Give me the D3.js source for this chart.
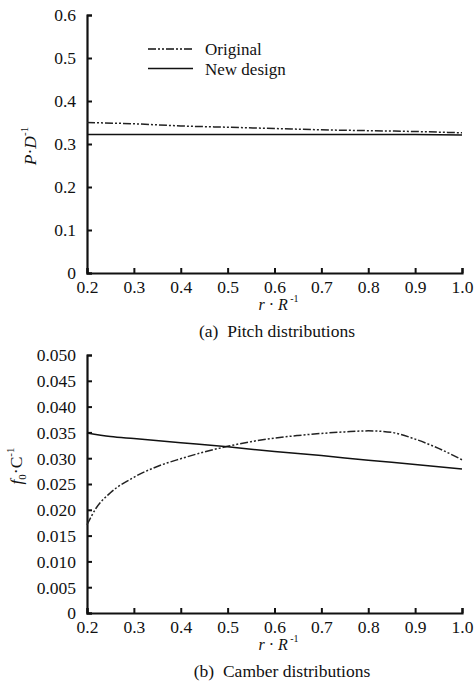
<!DOCTYPE html>
<html>
<head>
<meta charset="utf-8">
<title>Pitch and camber distributions</title>
<style>
  body { margin: 0; background: #fff; }
  svg text { font-family: "Liberation Serif", "Times New Roman", "DejaVu Serif", serif !important; fill: #111; }
</style>
</head>
<body>
<svg width="476" height="686"></svg>
<script src="https://cdn.jsdelivr.net/npm/d3@7"></script>
<script>
// pitch data
const rPitch = [0.2, 0.3, 0.4, 0.5, 0.6, 0.7, 0.8, 0.9, 1.0]
const pitchOriginal = [0.350, 0.347, 0.342, 0.339, 0.336, 0.333, 0.331, 0.329, 0.326]
const pitchNew = [0.322, 0.322, 0.322, 0.322, 0.322, 0.322, 0.322, 0.322, 0.321]
const pitchTicks = [0, 0.1, 0.2, 0.3, 0.4, 0.5, 0.6]

// camber data
const rCamberOrig = [0.2, 0.22, 0.25, 0.3, 0.35, 0.4, 0.45, 0.5, 0.55, 0.6, 0.65, 0.7, 0.75, 0.8, 0.85, 0.9, 0.95, 1.0]
const camberOriginal = [0.0171, 0.0204, 0.0233, 0.0263, 0.0284, 0.0299, 0.0312, 0.0323, 0.0332, 0.0339, 0.0344, 0.0348, 0.0351, 0.0353, 0.0350, 0.0337, 0.0319, 0.0297]
const rCamberNew = [0.2, 0.25, 0.3, 0.4, 0.5, 0.6, 0.7, 0.8, 0.9, 1.0]
const camberNew = [0.0349, 0.0342, 0.0338, 0.0330, 0.0322, 0.0313, 0.0305, 0.0296, 0.0288, 0.0279]
const camberTicks = [0, 0.005, 0.010, 0.015, 0.020, 0.025, 0.030, 0.035, 0.040, 0.045, 0.050]

const rTicks = [0.2, 0.3, 0.4, 0.5, 0.6, 0.7, 0.8, 0.9, 1.0]
const DASH = "8,2,2,2,2,2"
const FS = 17.5

const svg = d3.select("svg")

function panel(cfg) {
  const x = d3.scaleLinear().domain([0.2, 1.0]).range([cfg.left, cfg.right])
  const y = d3.scaleLinear().domain(cfg.ydom).range([cfg.bottom, cfg.top])
  const g = svg.append("g")

  // x axis
  const xa = g.append("g").attr("transform", `translate(0,${cfg.bottom})`)
    .call(d3.axisBottom(x).tickValues(rTicks).tickSize(-5).tickPadding(8).tickFormat(d3.format(".1f")))
  // y axis
  const ya = g.append("g").attr("transform", `translate(${cfg.left},0)`)
    .call(d3.axisLeft(y).tickValues(cfg.yticks).tickSize(-5).tickPadding(11)
      .tickFormat(d => d === 0 ? "0" : d3.format(cfg.yfmt)(d)))
  for (const a of [xa, ya]) {
    a.attr("font-family", null).attr("font-size", null)
    a.select(".domain").attr("stroke", "#111").attr("stroke-width", 2.2)
    a.selectAll(".tick line").attr("stroke", "#111").attr("stroke-width", 2)
    a.selectAll("text").style("font-size", FS + "px").attr("fill", "#111")
  }
  xa.selectAll(".tick text").attr("dy", "0.71em")
  ya.selectAll(".tick text").attr("dy", "0.34em")

  // lines
  const line = d3.line().x(d => x(d[0])).y(d => y(d[1])).curve(d3.curveMonotoneX)
  g.append("path").datum(d3.zip(cfg.rOrig, cfg.orig))
    .attr("fill", "none").attr("stroke", "#222").attr("stroke-width", 1.5)
    .attr("stroke-dasharray", DASH).attr("d", line)
  g.append("path").datum(d3.zip(cfg.rNew, cfg.nw))
    .attr("fill", "none").attr("stroke", "#111").attr("stroke-width", 1.5).attr("d", line)

  // x label r·R^-1
  const xl = g.append("text").attr("x", (cfg.left + cfg.right) / 2 + 4).attr("y", cfg.bottom + 37)
    .attr("text-anchor", "middle").style("font-size", "16px")
  xl.append("tspan").style("font-style", "italic").text("r")
  xl.append("tspan").text(" \u00b7 ")
  xl.append("tspan").style("font-style", "italic").text("R")
  xl.append("tspan").attr("dy", -8).style("font-size", "10px").text(" -1")

  // caption
  svg.append("text").attr("x", cfg.capX).attr("y", cfg.bottom + 64)
    .attr("text-anchor", "middle").style("font-size", FS + "px")
    .attr("xml:space", "preserve").text(cfg.caption)

  // y label
  const yl = svg.append("text").attr("transform", `translate(${cfg.ylx},${cfg.yly}) rotate(-90)`)
    .attr("text-anchor", "middle").style("font-size", FS + "px")
  cfg.ylabel(yl)
  return { x, y, g }
}

panel({
  left: 87, right: 462, top: 15, bottom: 273,
  ydom: [0, 0.6], yticks: pitchTicks, yfmt: ".1f",
  rOrig: rPitch, orig: pitchOriginal, rNew: rPitch, nw: pitchNew,
  caption: "(a)  Pitch distributions", capX: 277,
  ylx: 36, yly: 146,
  ylabel: t => {
    t.append("tspan").style("font-style", "italic").text("P")
    t.append("tspan").text("\u00b7")
    t.append("tspan").style("font-style", "italic").text("D")
    t.append("tspan").attr("dy", -8).style("font-size", "11px").text("-1")
  }
})

panel({
  left: 87, right: 462, top: 355, bottom: 613,
  ydom: [0, 0.05], yticks: camberTicks, yfmt: ".3f",
  rOrig: rCamberOrig, orig: camberOriginal, rNew: rCamberNew, nw: camberNew,
  caption: "(b)  Camber distributions", capX: 282,
  ylx: 22, yly: 466,
  ylabel: t => {
    t.append("tspan").style("font-style", "italic").text("f")
    t.append("tspan").attr("dy", 4).style("font-size", "11px").text("0")
    t.append("tspan").attr("dy", -4).text("\u00b7")
    t.append("tspan").text("C")
    t.append("tspan").attr("dy", -8).style("font-size", "11px").text("-1")
  }
})

// legend
const legend = svg.append("g")
const names = ["Original", "New design"]
names.forEach((n, i) => {
  const yy = 49 + i * 19.5
  legend.append("line").attr("x1", 148).attr("x2", 193).attr("y1", yy).attr("y2", yy)
    .attr("stroke", "#111").attr("stroke-width", 1.5)
    .attr("stroke-dasharray", i === 0 ? DASH : null)
  legend.append("text").attr("x", 205).attr("y", yy + 6).style("font-size", "17px").text(n)
})
</script>
</body>
</html>
